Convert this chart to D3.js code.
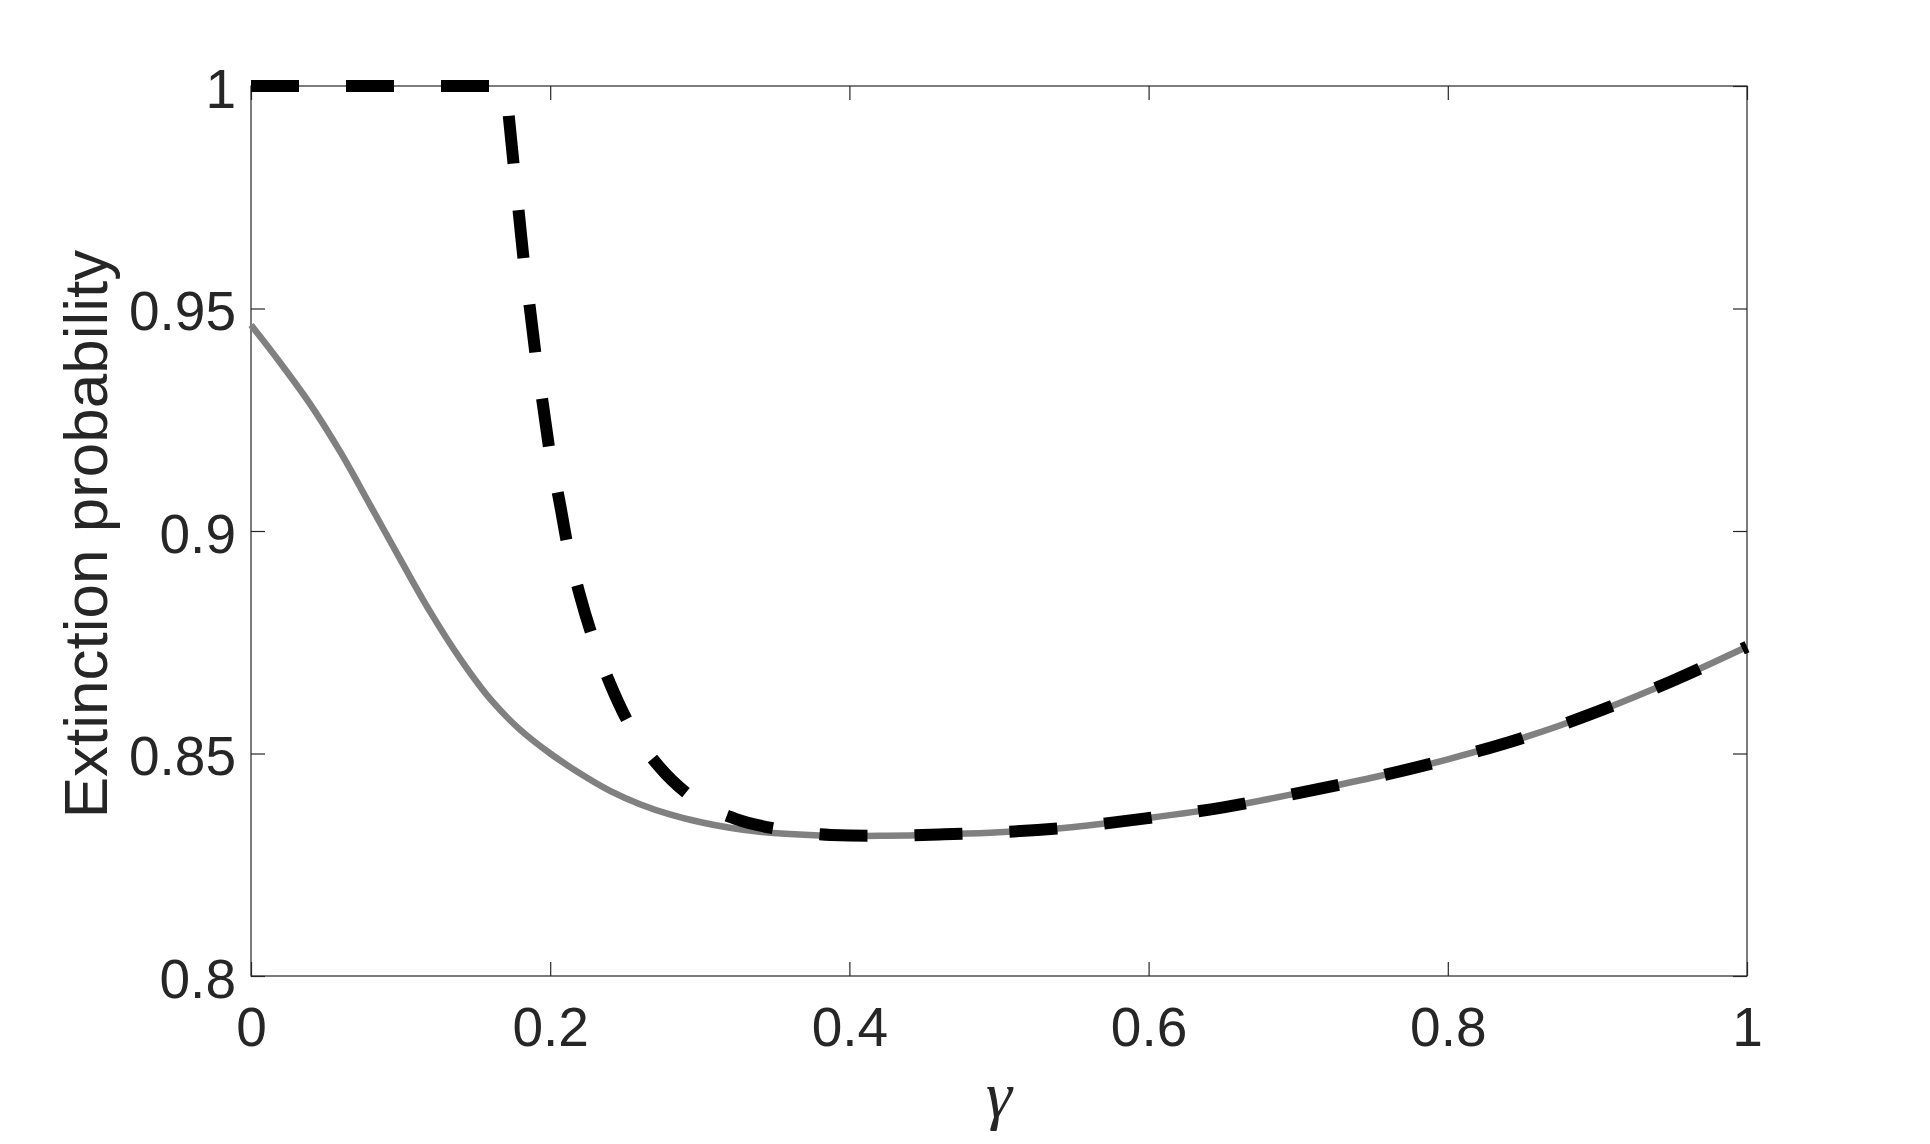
<!DOCTYPE html>
<html>
<head>
<meta charset="utf-8">
<script src="https://d3js.org/d3.v7.min.js"></script>
<style>
  body {
    margin: 0;
    background: #ffffff;
  }
  .tick text {
    font-family: 'Liberation Sans', Arial, Helvetica, sans-serif;
    font-size: 55px;
    fill: #262626;
  }
  .tick line {
    stroke: #262626;
    stroke-width: 1.2px;
  }
  .frame {
    fill: none;
    stroke: #262626;
    stroke-width: 1.2px;
  }
  .yLabel {
    font-family: 'Liberation Sans', Arial, Helvetica, sans-serif;
    font-size: 62px;
    fill: #262626;
    text-anchor: middle;
  }
  .xLabel {
    font-family: 'Liberation Serif', 'DejaVu Serif', serif;
    font-style: italic;
    font-size: 66px;
    fill: #262626;
    text-anchor: middle;
  }
</style>
</head>
<body>
<script>

// gamma grid and extinction probability for the grey (solid) curve
var gammaSolid = [0, 0.02, 0.04, 0.06, 0.08, 0.10, 0.12, 0.14, 0.16, 0.18, 0.20,
  0.22, 0.24, 0.26, 0.28, 0.30, 0.32, 0.34, 0.36, 0.38, 0.40, 0.42, 0.44, 0.46,
  0.50, 0.55, 0.60, 0.65, 0.70, 0.75, 0.80, 0.85, 0.90, 0.95, 1.00];
var probSolid = [0.9463, 0.9376, 0.9283, 0.9176, 0.9056, 0.8935, 0.8817, 0.8712, 0.8622, 0.8553, 0.8500,
  0.8455, 0.8416, 0.8386, 0.8363, 0.8346, 0.8333, 0.8324, 0.8319, 0.8316, 0.8315, 0.8315, 0.8316, 0.8318,
  0.8323, 0.8335, 0.8355, 0.8379, 0.8411, 0.8446, 0.8487, 0.8535, 0.8594, 0.8663, 0.8740];

// gamma grid and extinction probability for the black (dashed) curve
var gammaDashed = [0, 0.1705, 0.1725, 0.1758, 0.1791, 0.1825, 0.1865, 0.1905, 0.1952, 0.1999,
  0.2059, 0.2119, 0.2195, 0.2288, 0.2400, 0.2542, 0.2727, 0.2963, 0.3249, 0.3565, 0.3877,
  0.42, 0.46, 0.50, 0.55, 0.60, 0.65, 0.70, 0.75, 0.80, 0.85, 0.90, 0.95, 1.00];
var probDashed = [1, 1, 0.9926, 0.9816, 0.9712, 0.9602, 0.9499, 0.9389, 0.9283, 0.9173,
  0.9072, 0.8962, 0.8860, 0.8756, 0.8657, 0.8557, 0.8471, 0.8398, 0.8352, 0.8328, 0.8317,
  0.8315, 0.8318, 0.8323, 0.8335, 0.8355, 0.8379, 0.8411, 0.8446, 0.8487, 0.8535, 0.8594, 0.8663, 0.8740];

var xTicks = [0, 0.2, 0.4, 0.6, 0.8, 1];
var yTicks = [0.8, 0.85, 0.9, 0.95, 1];

var margin = {top: 86, right: 183, bottom: 168, left: 251};
var totalWidth = 1930, totalHeight = 1144;
var width = totalWidth - margin.left - margin.right;
var height = totalHeight - margin.top - margin.bottom;

var svg = d3.select("body")
  .append("svg")
  .attr("width", totalWidth)
  .attr("height", totalHeight)
  .append("g")
  .attr("transform", "translate(" + margin.left + "," + margin.top + ")");

///////////////////////////// Scales /////////////////////////////

var x = d3.scaleLinear().domain([0, 1]).range([0, width]);
var y = d3.scaleLinear().domain([0.8, 1]).range([height, 0]);

///////////////////////////// Axes //////////////////////////////

var tickLen = 14;

svg.append("g")
  .attr("transform", "translate(0," + height + ")")
  .call(d3.axisBottom(x).tickValues(xTicks).tickSizeInner(-tickLen).tickSizeOuter(0)
    .tickFormat(function(d) { return String(d); }))
  .call(function(g) { g.select(".domain").remove(); })
  .selectAll("text")
  .attr("y", 0)
  .attr("dy", 70);

svg.append("g")
  .call(d3.axisLeft(y).tickValues(yTicks).tickSizeInner(-tickLen).tickSizeOuter(0)
    .tickFormat(function(d) { return String(d); }))
  .call(function(g) { g.select(".domain").remove(); })
  .selectAll("text")
  .attr("x", -15)
  .attr("dy", 21);

svg.append("g")
  .call(d3.axisTop(x).tickValues(xTicks).tickSizeInner(-tickLen).tickSizeOuter(0).tickFormat(""))
  .call(function(g) { g.select(".domain").remove(); });

svg.append("g")
  .attr("transform", "translate(" + width + ",0)")
  .call(d3.axisRight(y).tickValues(yTicks).tickSizeInner(-tickLen).tickSizeOuter(0).tickFormat(""))
  .call(function(g) { g.select(".domain").remove(); });

svg.selectAll(".tick text").attr("font-family", null).attr("font-size", null);

svg.append("rect")
  .attr("class", "frame")
  .attr("x", 0)
  .attr("y", 0)
  .attr("width", width)
  .attr("height", height);

///////////////////////////// Curves /////////////////////////////

var smoothLine = d3.line()
  .x(function(d) { return x(d[0]); })
  .y(function(d) { return y(d[1]); })
  .curve(d3.curveCatmullRom.alpha(0.5));

var dashLine = d3.line()
  .x(function(d) { return x(d[0]); })
  .y(function(d) { return y(d[1]); })
  .curve(d3.curveMonotoneX);

svg.append("path")
  .datum(d3.zip(gammaSolid, probSolid))
  .attr("fill", "none")
  .attr("stroke", "#808080")
  .attr("stroke-width", 6.5)
  .attr("d", smoothLine);

svg.append("path")
  .datum(d3.zip(gammaDashed, probDashed))
  .attr("fill", "none")
  .attr("stroke", "#000000")
  .attr("stroke-width", 12)
  .attr("stroke-dasharray", "48 47")
  .attr("d", dashLine);

///////////////////////////// Labels /////////////////////////////

svg.append("text")
  .attr("class", "yLabel")
  .attr("transform", "translate(" + (107 - margin.left) + "," + (height / 2 + 3) + ") rotate(-90)")
  .text("Extinction probability");

svg.append("text")
  .attr("class", "xLabel")
  .attr("x", width / 2)
  .attr("y", height + 141)
  .text("γ");

</script>
</body>
</html>
